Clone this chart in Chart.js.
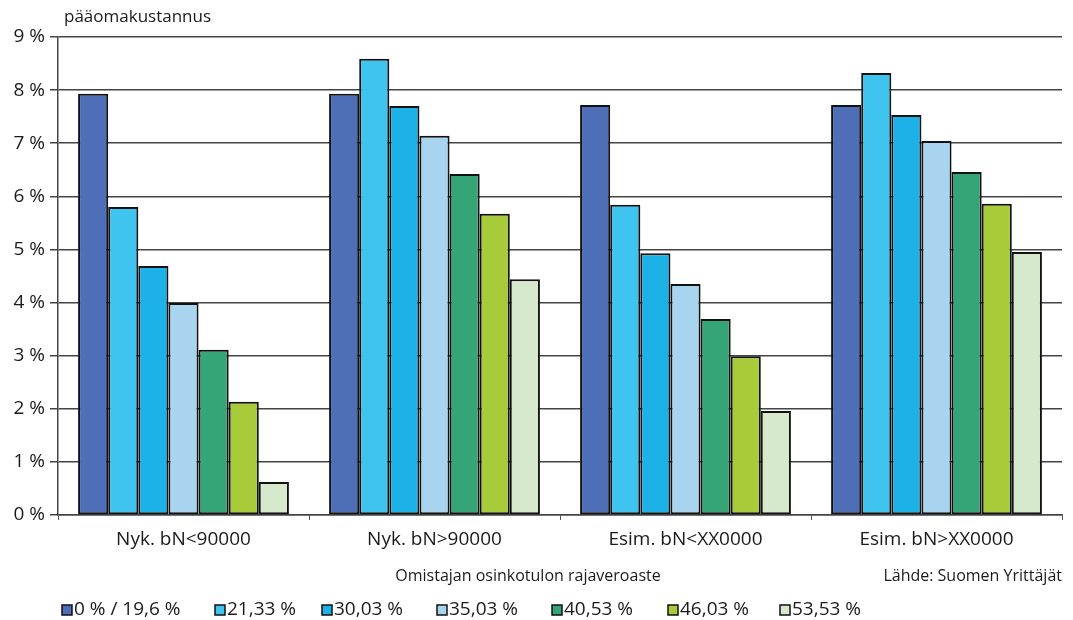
<!DOCTYPE html>
<html>
<head>
<meta charset="utf-8">
<script src="https://cdn.jsdelivr.net/npm/chart.js"></script>
<style>
  html, body { margin: 0; padding: 0; background: #fff; }
  #wrap { width: 1073px; height: 620px; }
</style>
</head>
<body>
<div id="wrap"><canvas id="myChart" width="1073" height="620"></canvas></div>
<script>
// categories and series (values in %)
const categories = ['Nyk. bN<90000', 'Nyk. bN>90000', 'Esim. bN<XX0000', 'Esim. bN>XX0000'];
const seriesNames = ['0 % / 19,6 %', '21,33 %', '30,03 %', '35,03 %', '40,53 %', '46,03 %', '53,53 %'];
const s0 = [7.93, 7.93, 7.72, 7.72];
const s1 = [5.80, 8.59, 5.84, 8.32];
const s2 = [4.69, 7.70, 4.93, 7.53];
const s3 = [3.99, 7.14, 4.35, 7.04];
const s4 = [3.11, 6.42, 3.69, 6.46];
const s5 = [2.13, 5.67, 2.99, 5.86];
const s6 = [0.62, 4.44, 1.96, 4.95];
const colors = ['#4f6eb8', '#3ec4ee', '#1cb2e8', '#a9d4f0', '#35a477', '#a8cb3a', '#d6e9cc'];

const allSeries = [s0, s1, s2, s3, s4, s5, s6];
const FONT = '"Open Sans", Lato, sans-serif';

// legend x positions along the bottom row
const legendX = [62, 215, 322, 437, 552, 668, 780];

// extra texts: y title, x title, source, legend row
const textPlugin = {
    id: 'texts',
    afterDraw(chart) {
        const ctx = chart.ctx;
        ctx.save();
        ctx.fillStyle = '#1a1a1a';
        ctx.textBaseline = 'middle';
        ctx.font = '17px ' + FONT;
        ctx.textAlign = 'left';
        ctx.fillText('pääomakustannus', 64, 17);
        ctx.font = '16px ' + FONT;
        ctx.textAlign = 'center';
        ctx.fillText('Omistajan osinkotulon rajaveroaste', 528, 576);
        ctx.font = '16px ' + FONT;
        ctx.textAlign = 'right';
        ctx.fillText('Lähde: Suomen Yrittäjät', 1062, 576);

        // legend
        ctx.font = '19px ' + FONT;
        ctx.textAlign = 'left';
        chart.data.datasets.forEach((ds, i) => {
            const x = legendX[i];
            ctx.fillStyle = ds.backgroundColor;
            ctx.fillRect(x, 605, 10, 10);
            ctx.strokeStyle = '#111';
            ctx.lineWidth = 1.5;
            ctx.strokeRect(x, 605, 10, 10);
            ctx.fillStyle = '#1a1a1a';
            ctx.fillText(ds.label, x + 12, 610);
        });
        ctx.restore();
    }
};

const ctx = document.getElementById('myChart').getContext('2d');
const chart = new Chart(ctx, {
    type: 'bar',
    data: {
        labels: categories,
        datasets: allSeries.map((d, i) => ({
            label: seriesNames[i],
            data: d,
            backgroundColor: colors[i],
            borderColor: '#111',
            borderWidth: 2,
            borderSkipped: false,
            categoryPercentage: 0.84,
            barPercentage: 1.0
        }))
    },
    options: {
        responsive: false,
        animation: false,
        layout: { padding: { top: 37, right: 11, left: 0, bottom: 0 } },
        plugins: {
            tooltip: { enabled: false },
            legend: { display: false }
        },
        scales: {
            x: {
                grid: {
                    offset: true,
                    drawOnChartArea: false,
                    tickLength: 5,
                    color: '#555'
                },
                border: { color: '#444', width: 1.5 },
                ticks: {
                    color: '#1a1a1a',
                    padding: 8,
                    font: { family: FONT, size: 19 }
                },
                afterFit(scale) { scale.height = 105; }
            },
            y: {
                min: 0,
                max: 9,
                ticks: {
                    stepSize: 1,
                    color: '#1a1a1a',
                    padding: 5,
                    font: { family: FONT, size: 19 },
                    callback: v => v + ' %'
                },
                grid: { color: '#444', lineWidth: 1.5, tickLength: 8 },
                border: { color: '#444', width: 1.5 },
                afterFit(scale) { scale.width = 58; }
            }
        }
    },
    plugins: [textPlugin]
});
</script>
</body>
</html>
